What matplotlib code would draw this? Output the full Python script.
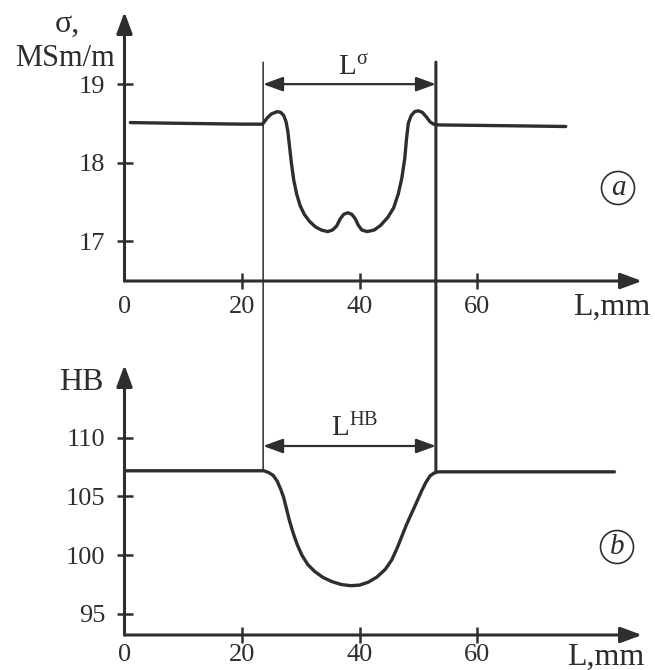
import matplotlib
matplotlib.use("Agg")
import matplotlib.pyplot as plt
from matplotlib.patches import ConnectionPatch

plt.rcParams['font.family'] = ['Liberation Serif', 'DejaVu Serif']
plt.rcParams['mathtext.fontset'] = 'custom'
plt.rcParams['mathtext.rm'] = 'Liberation Serif'
plt.rcParams['mathtext.it'] = 'Liberation Serif:italic'

# ---- data ----
sigma_x = [1.0, 10, 20, 23.5, 24.3, 25.0, 26.0, 26.6, 27.1, 27.5, 27.8, 28.1, 28.4, 28.8,
           29.3, 29.9, 30.6, 31.5, 32.5, 33.5, 34.6, 35.4, 36.1, 36.7, 37.3, 38.0, 38.7,
           39.3, 39.8, 40.4, 41.3, 42.5, 43.6, 44.8, 45.8, 46.6, 47.2, 47.7, 48.0, 48.3,
           48.8, 49.4, 50.0, 50.7, 51.4, 52.0, 52.6, 53.5, 65, 75.1]
sigma_y = [18.51, 18.50, 18.49, 18.49, 18.57, 18.62, 18.65, 18.64, 18.60, 18.52, 18.40,
           18.20, 18.00, 17.78, 17.60, 17.45, 17.34, 17.25, 17.18, 17.14, 17.12, 17.14,
           17.19, 17.28, 17.34, 17.36, 17.34, 17.28, 17.20, 17.14, 17.12, 17.14, 17.20,
           17.30, 17.42, 17.60, 17.80, 18.05, 18.30, 18.50, 18.60, 18.65, 18.66, 18.64,
           18.58, 18.52, 18.49, 18.48, 18.47, 18.46]

hb_x = [0.3, 10, 20, 23.7, 24.5, 25.3, 26.0, 26.6, 27.1, 27.6, 28.1, 28.7, 29.4, 30.2,
        31.2, 32.4, 33.8, 35.3, 36.9, 38.5, 40.0, 41.5, 43.0, 44.4, 45.5, 46.4, 47.2,
        48.0, 48.9, 49.8, 50.6, 51.3, 52.0, 52.7, 53.4, 60, 70, 83.4]
hb_y = [107.19, 107.19, 107.19, 107.19, 107.05, 106.8, 106.3, 105.6, 104.9, 103.9, 102.9,
        101.9, 100.9, 100.0, 99.2, 98.6, 98.1, 97.75, 97.5, 97.4, 97.45, 97.7, 98.15,
        98.8, 99.6, 100.6, 101.6, 102.6, 103.6, 104.6, 105.5, 106.2, 106.75, 107.0,
        107.1, 107.1, 107.1, 107.1]

sigma_yticks = [17, 18, 19]
hb_yticks = [95, 100, 105, 110]
x_ticks = [20, 40, 60]
L_sigma = (23.6, 53.0)
L_hb = (23.6, 53.0)

C = '#2e2e2e'
W, H = 655, 670

fig = plt.figure(figsize=(6.55, 6.70), dpi=100)

def fx(px):
    return px / W

def fy(py):
    return 1 - py / H

x0_px, x1_px = 124.5, 642
xmax = (x1_px - x0_px) / 5.875

ax1 = fig.add_axes([fx(x0_px), fy(281), fx(x1_px) - fx(x0_px), fy(12) - fy(281)])
ax2 = fig.add_axes([fx(x0_px), fy(635), fx(x1_px) - fx(x0_px), fy(365) - fy(635)])

ax1.set_xlim(0, xmax)
ax1.set_ylim(16.49, 19.92)
ax2.set_xlim(0, xmax)
ax2.set_ylim(93.2, 116.2)

for ax, yt, xpad in ((ax1, sigma_yticks, 5), (ax2, hb_yticks, 1)):
    for s in ax.spines.values():
        s.set_visible(False)
    ax.patch.set_alpha(0)
    ax.set_xticks(x_ticks)
    ax.set_xticklabels([str(v) for v in x_ticks])
    ax.set_xticks([0], minor=True)
    ax.set_xticklabels(['0'], minor=True)
    ax.set_yticks(yt)
    ax.set_yticklabels([str(v) for v in yt])
    ax.tick_params(axis='both', which='major', direction='inout', length=11.5,
                   width=1.8, color=C, labelcolor=C, labelsize=19)
    ax.tick_params(axis='x', which='major', pad=xpad)
    ax.tick_params(axis='y', which='major', pad=8)
    ax.tick_params(axis='x', which='minor', length=0, pad=xpad + 5.5, labelsize=19,
                   labelcolor=C)
    ap = dict(arrowstyle='-|>,head_length=0.65,head_width=0.24', color=C, lw=2.2,
              shrinkA=0, shrinkB=0, mutation_scale=20)
    ax.annotate('', xy=(1, 0), xytext=(0, 0), xycoords='axes fraction',
                textcoords='axes fraction', arrowprops=ap)
    ax.annotate('', xy=(0, 1), xytext=(0, 0), xycoords='axes fraction',
                textcoords='axes fraction', arrowprops=ap)

ax1.plot(sigma_x, sigma_y, color=C, lw=2.4, solid_capstyle='round', solid_joinstyle='round')
ax2.plot(hb_x, hb_y, color=C, lw=2.4, solid_capstyle='round', solid_joinstyle='round')

# vertical boundary lines
top_val = 19.28
for xv, lw in ((L_sigma[0], 1.1), (L_sigma[1], 2.2)):
    con = ConnectionPatch(xyA=(xv, top_val), coordsA=ax1.transData,
                          xyB=(xv, hb_y[0]), coordsB=ax2.transData,
                          color=C, lw=lw)
    fig.add_artist(con)

dap = dict(arrowstyle='<|-|>,head_length=0.6,head_width=0.22', color=C, lw=1.6,
           shrinkA=0, shrinkB=0, mutation_scale=20)
ax1.annotate('', xy=(L_sigma[1], 19.0), xytext=(L_sigma[0], 19.0), arrowprops=dap)
ax2.annotate('', xy=(L_hb[1], 109.3), xytext=(L_hb[0], 109.3), arrowprops=dap)

# labels
fig.text(fx(353), fy(67), r'$\mathrm{L^{σ}}$', ha='center', va='center', fontsize=21, color=C)
fig.text(fx(355), fy(428), r'$\mathrm{L^{HB}}$', ha='center', va='center', fontsize=21, color=C)

fig.text(fx(67), fy(24), 'σ,', ha='center', va='center', fontsize=23, color=C)
fig.text(fx(65), fy(58), 'MSm/m', ha='center', va='center', fontsize=22, color=C)
fig.text(fx(81), fy(382), 'HB', ha='center', va='center', fontsize=23, color=C)
fig.text(fx(612), fy(307), 'L,mm', ha='center', va='center', fontsize=23, color=C)
fig.text(fx(606), fy(657), 'L,mm', ha='center', va='center', fontsize=23, color=C)

for (px, py, lab) in ((618, 188, 'a'), (617, 547, 'b')):
    fig.text(fx(px), fy(py), lab, ha='center', va='center', fontsize=21, style='italic',
             color=C, bbox=dict(boxstyle='circle,pad=0.12', fc='none', ec=C, lw=1.2))

fig.savefig('out.png', dpi=100)
